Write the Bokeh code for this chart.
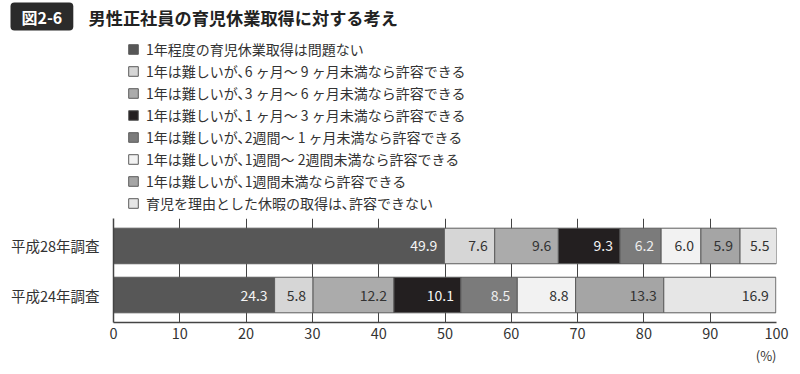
from bokeh.plotting import figure
from bokeh.layouts import column
from bokeh.models import (Legend, LegendItem, Label, ColumnDataSource, FixedTicker,
                          FactorRange, Range1d, Title)
from bokeh.core.properties import value
from bokeh.embed import file_html
from bokeh.resources import INLINE

FONT = "Noto Sans CJK JP"

surveys = ["平成28年調査", "平成24年調査"]
categories = [
    "1年程度の育児休業取得は問題ない",
    "1年は難しいが､6 ヶ月～ 9 ヶ月未満なら許容できる",
    "1年は難しいが､3 ヶ月～ 6 ヶ月未満なら許容できる",
    "1年は難しいが､1 ヶ月～ 3 ヶ月未満なら許容できる",
    "1年は難しいが､2週間～ 1 ヶ月未満なら許容できる",
    "1年は難しいが､1週間～ 2週間未満なら許容できる",
    "1年は難しいが､1週間未満なら許容できる",
    "育児を理由とした休暇の取得は､許容できない",
]
values_h28 = [49.9, 7.6, 9.6, 9.3, 6.2, 6.0, 5.9, 5.5]
values_h24 = [24.3, 5.8, 12.2, 10.1, 8.5, 8.8, 13.3, 16.9]
x_ticks = [0, 10, 20, 30, 40, 50, 60, 70, 80, 90, 100]

colors = ["#575757", "#d6d6d6", "#ababab", "#231f20", "#7b7b7b", "#f2f2f2", "#a5a5a5", "#e6e6e6"]
label_colors = ["#f4f4f4", "#333333", "#333333", "#f4f4f4", "#eeeeee", "#333333", "#333333", "#333333"]

W = 792
HEAD_H = 218
MAIN_H = 148

# ---------- header: title + legend ----------
head = figure(width=W, height=HEAD_H, x_range=Range1d(0, W), y_range=Range1d(0, HEAD_H),
              x_axis_type=None, y_axis_type=None,
              output_backend="svg", toolbar_location=None,
              min_border_left=0, min_border_right=0, min_border_top=0, min_border_bottom=0)
head.frame_align = False
head.outline_line_color = None
head.xgrid.grid_line_color = None
head.ygrid.grid_line_color = None

items = []
for i, cat in enumerate(categories):
    # legend swatch proxy, kept outside the visible range
    proxy = head.hbar(y=[-50], left=[0], right=[1], height=1,
                      fill_color=colors[i], line_color="#5c5c5c", line_width=1)
    items.append(LegendItem(label=cat, renderers=[proxy]))

legend = Legend(items=items, location=(127, 5), orientation="vertical",
                background_fill_alpha=0, border_line_alpha=0,
                glyph_width=12, glyph_height=12, label_height=20, spacing=2,
                padding=0, margin=0, label_standoff=7,
                label_text_font=FONT, label_text_font_size="14px", label_text_color="#333333")
head.add_layout(legend, "center")

head.add_layout(Label(x=10, y=HEAD_H - 16, x_units="screen", y_units="screen", text="図2-6",
                      text_font=FONT, text_font_size="16px", text_font_style="bold",
                      text_color="white", text_baseline="middle", text_align="left",
                      background_fill_color="#2b2b2b",
                      padding=dict(left=11, right=11, top=2, bottom=2), border_radius=4))
head.add_layout(Label(x=88, y=HEAD_H - 17, x_units="screen", y_units="screen",
                      text="男性正社員の育児休業取得に対する考え",
                      text_font=FONT, text_font_size="17.2px", text_font_style="bold",
                      text_color="#222222", text_baseline="middle", text_align="left"))

# ---------- main bar chart ----------
p = figure(
    width=W, height=MAIN_H,
    x_range=(0, 100),
    y_range=FactorRange(factors=[surveys[1], surveys[0]], range_padding=0.06,
                        range_padding_units="absolute"),
    output_backend="svg", toolbar_location=None,
    min_border_left=113, min_border_right=16, min_border_top=0, min_border_bottom=43,
)
p.frame_align = False
p.outline_line_color = None

series = [values_h28, values_h24]
for i, cat in enumerate(categories):
    lefts = [sum(v[:i]) for v in series]
    vals = [v[i] for v in series]
    rights = [l + w for l, w in zip(lefts, vals)]
    src = ColumnDataSource(dict(
        y=surveys, left=lefts, right=rights,
        label=[f"{w:.1f}" for w in vals],
    ))
    p.hbar(y="y", left="left", right="right", height=0.725, source=src,
           fill_color=colors[i], line_color="#5c5c5c", line_width=1)
    p.text(x="right", y="y", text="label", source=src, x_offset=-7,
           text_align="right", text_baseline="middle",
           text_color=label_colors[i], text_font=value(FONT), text_font_size="14px")

p.xaxis.ticker = FixedTicker(ticks=x_ticks)
p.xaxis.major_tick_in = 0
p.xaxis.major_tick_out = 0
p.xaxis.minor_tick_line_color = None
p.xaxis.axis_line_color = "#444444"
p.xaxis.axis_line_width = 1.5
p.xaxis.major_label_text_font = FONT
p.xaxis.major_label_text_font_size = "14.5px"
p.xaxis.major_label_text_color = "#333333"
p.xaxis.major_label_standoff = 5

p.yaxis.major_tick_in = 0
p.yaxis.major_tick_out = 0
p.yaxis.axis_line_color = "#444444"
p.yaxis.axis_line_width = 1.5
p.yaxis.major_label_text_font = FONT
p.yaxis.major_label_text_font_size = "14.5px"
p.yaxis.major_label_text_color = "#333333"
p.yaxis.major_label_standoff = 14

p.xgrid.grid_line_color = "#444444"
p.xgrid.grid_line_width = 1
p.ygrid.grid_line_color = None

p.add_layout(Title(text="(%)", align="right", text_font=FONT, text_font_size="13px",
                   text_font_style="normal", text_color="#333333", standoff=4, offset=0),
             "below")

layout = column(head, p, spacing=0)
open("out.html", "w").write(file_html(layout, INLINE))
